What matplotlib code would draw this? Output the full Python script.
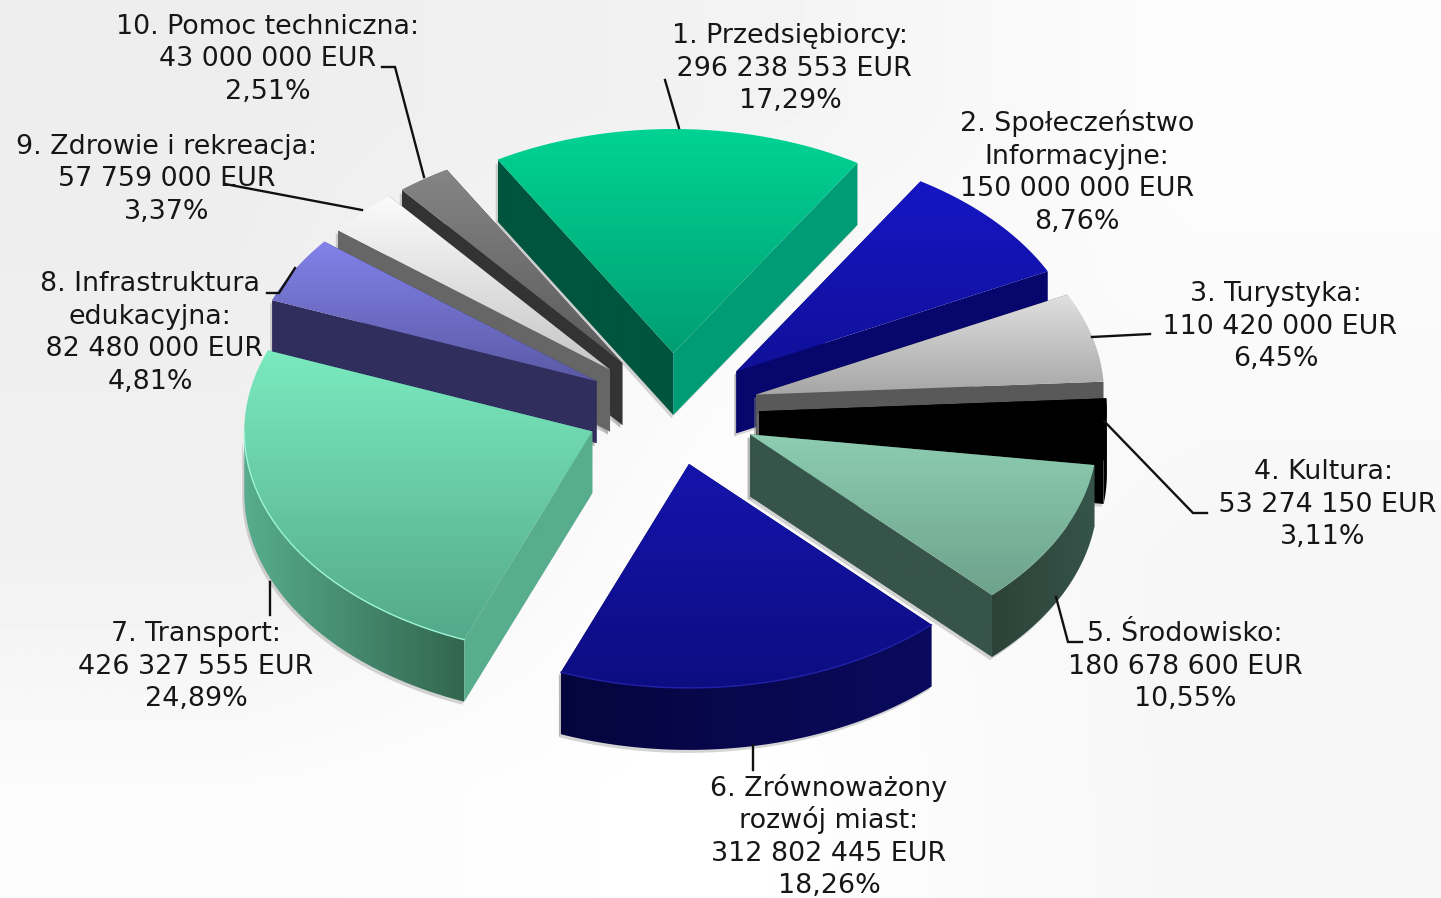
import numpy as np
import matplotlib
matplotlib.use('Agg')
import matplotlib.pyplot as plt
from matplotlib.colors import LinearSegmentedColormap
from matplotlib.patches import Polygon

# Allocation per priority axis, clockwise from the top slice
categories = ['1. Przedsiębiorcy:', '2. Społeczeństwo\nInformacyjne:', '3. Turystyka:', '4. Kultura:',
              '5. Środowisko:', '6. Zrównoważony\nrozwój miast:', '7. Transport:',
              '8. Infrastruktura\nedukacyjna:', '9. Zdrowie i rekreacja:', '10. Pomoc techniczna:']
values = [296238553, 150000000, 110420000, 53274150, 180678600,
          312802445, 426327555, 82480000, 57759000, 43000000]
percents = ['17,29%', '8,76%', '6,45%', '3,11%', '10,55%', '18,26%', '24,89%', '4,81%', '3,37%', '2,51%']

top_colors = [('#00d394', '#009e72'), ('#1616c4', '#10109a'), ('#e0e0e0', '#a6a6a6'), ('#000000', '#000000'),
              ('#8dcdb1', '#6ea28c'), ('#1414ac', '#0d0d82'), ('#7aeabf', '#54a98b'),
              ('#8282ea', '#5a5aa6'), ('#fbfbfb', '#c6c6c6'), ('#858585', '#5a5a5a')]
start_walls = ['#00553f', '#06066c', '#595959', '#000000', '#37544a',
               '#06064f', '#58ad8e', '#302e5c', '#666666', '#333333']
end_walls = ['#009c76', '#06066c', '#595959', '#000000', '#37544a',
             '#06064f', '#58ad8e', '#302e5c', '#666666', '#333333']
outer_walls = [('#009c76', '#009c76'), ('#06066c', '#06066c'), ('#595959', '#595959'), ('#000000', '#000000'),
               ('#2c4238', '#36544a'), ('#05053e', '#0a0a5e'), ('#57ad8d', '#33664f'),
               ('#302e5c', '#302e5c'), ('#666666', '#666666'), ('#333333', '#333333')]

label_x = [790, 1077, 1276, 1323, 1185, 829, 196, 150, 167, 268]
label_y = [33, 121, 291, 469, 631, 786, 631, 281, 144, 24]
# some amount lines sit a little right of the centre in the original, hence the leading space
leading_space = [True, False, True, True, False, False, False, True, False, False]

leaders = [([665, 679], [80, 128]), ([1150, 1092], [334, 337]),
           ([1207, 1193, 1104], [513, 513, 421]), ([1082, 1068, 1056], [642, 642, 597]),
           ([753, 753], [770, 745]), ([270, 270], [615, 582]),
           ([267, 279, 295], [293, 293, 268]), ([225, 362], [184, 210]),
           ([382, 395, 424], [67, 67, 177])]

# pie geometry in pixels
cx, cy = 672, 409
rx, ry = 348, 224
depth = 62
explode = 0.25
start_angle = -30.3

fig = plt.figure(figsize=(14.41, 8.98), dpi=100)
ax = fig.add_axes([0, 0, 1, 1])
ax.set_xlim(0, 1441)
ax.set_ylim(898, 0)
ax.axis('off')

# background, soft grey towards the upper left, nearly white elsewhere
bg = np.array([[0.93, 0.95, 0.99],
               [0.935, 0.98, 0.98],
               [0.945, 0.995, 0.965],
               [0.985, 1.0, 0.965]])
ax.imshow(bg, extent=[0, 1441, 898, 0], cmap='gray', vmin=0, vmax=1, aspect='auto',
          interpolation='bilinear', zorder=0)


def gradFill(points, colors, z, horizontal=False):
    # polygon filled through a clipped gradient image
    pts = np.array(points)
    cmap = LinearSegmentedColormap.from_list('g', colors)
    grad = np.linspace(0, 1, 128).reshape(1, -1) if horizontal else np.linspace(0, 1, 128).reshape(-1, 1)
    im = ax.imshow(grad, cmap=cmap, vmin=0, vmax=1, aspect='auto', zorder=z,
                   extent=[pts[:, 0].min(), pts[:, 0].max(), pts[:, 1].max(), pts[:, 1].min()])
    clip = Polygon(pts, closed=True, transform=ax.transData, fc='none', ec='none')
    ax.add_patch(clip)
    im.set_clip_path(clip)


def shadow(points, z):
    ax.add_patch(Polygon(np.array(points) + [-2, 3], closed=True, fc='#777777', ec='none', alpha=0.3, zorder=z))


def onEllipse(ox, oy, deg):
    t = np.radians(deg)
    return ox + rx * np.sin(t), oy - ry * np.cos(t)


total = sum(values)
spans = [v / total * 360 for v in values]
starts = [start_angle + sum(spans[:i]) for i in range(len(spans))]
mids = [s + w / 2 for s, w in zip(starts, spans)]

# back slices first so the front ones cover them
order = sorted(range(len(values)), key=lambda k: -np.cos(np.radians(mids[k])))
for n, i in enumerate(order):
    z = 2 + n * 2
    a0, a1 = starts[i], starts[i] + spans[i]
    t = np.radians(mids[i])
    ox = cx + explode * rx * np.sin(t)
    oy = cy - explode * ry * np.cos(t)

    p0 = onEllipse(ox, oy, a0)
    p1 = onEllipse(ox, oy, a1)
    for p, col in ((p0, start_walls[i]), (p1, end_walls[i])):
        wall = [(ox, oy), p, (p[0], p[1] + depth), (ox, oy + depth)]
        shadow(wall, z)
        gradFill(wall, [col, col], z + 0.1)

    # rim, only where the arc faces the viewer
    lo, hi = max(a0, 90), min(a1, 270)
    if hi > lo:
        rim = [onEllipse(ox, oy, a) for a in np.linspace(lo, hi, 80)]
        low = [(x, y + depth) for x, y in rim]
        shadow(rim + low[::-1], z)
        gradFill(rim + low[::-1], outer_walls[i], z + 0.3, horizontal=True)

    arc = [onEllipse(ox, oy, a) for a in np.linspace(a0, a1, 120)]
    gradFill([(ox, oy)] + arc, top_colors[i], z + 0.6)
    if hi > lo and i in (5, 6):
        edge = np.array([onEllipse(ox, oy, a) for a in np.linspace(lo, hi, 80)])
        light = '#9df5d6' if i == 6 else '#2020a8'
        ax.plot(edge[:, 0], edge[:, 1], color=light, lw=1.0, zorder=z + 0.9)

top = 100
for lx, ly in leaders:
    ax.plot(lx, ly, color='#111111', lw=1.7, zorder=top, solid_joinstyle='miter')

for i in range(len(values)):
    amount = f'{values[i]:,}'.replace(',', ' ') + ' EUR'
    if leading_space[i]:
        amount = ' ' + amount
    lines = categories[i].split('\n') + [amount, percents[i]]
    for k, line in enumerate(lines):
        ax.text(label_x[i], label_y[i] + k * 32.5 + 10, line, ha='center', va='baseline',
                fontsize=19.4, color='#161616', zorder=top + 1)

fig.savefig('out.png', dpi=100)
